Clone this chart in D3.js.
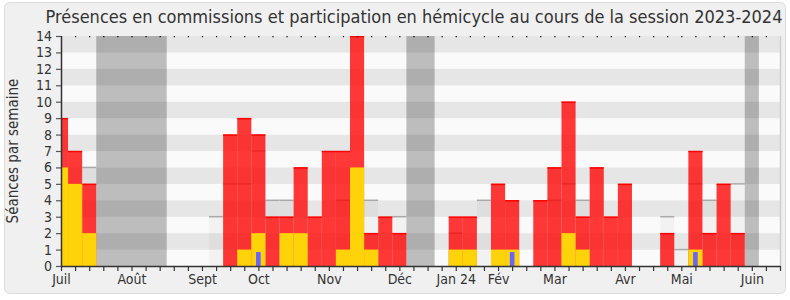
<!DOCTYPE html>
<html>
<head>
<meta charset="utf-8">
<script src="https://cdn.jsdelivr.net/npm/d3@7"></script>
<style>
  body { margin: 0; background: #fff; }
  svg { display: block; font-family: "DejaVu Sans", sans-serif; font-stretch: condensed; }
</style>
</head>
<body>
<svg id="chart"></svg>
<script>
const w = 790;
const h = 300;
const margin = { top: 36, right: 10, bottom: 34, left: 61 };

// one entry per week of the session, week 0 = first week of July 2023
const hemicycle = [9, 7, 5, null, null, null, null, null, null, null,
  null, null, 8, 9, 8, 3, 3, 6, 3, 7,
  7, 14, 2, 3, 2, null, null, null, 3, 3,
  null, 5, 4, null, 4, 6, 10, 3, 6, 3,
  5, null, null, 2, null, 7, 2, 5, 2, null, null];
const commissions = [6, 5, 2, null, null, null, null, null, null, null,
  null, null, null, 1, 2, null, 2, 2, null, null,
  1, 6, 1, null, null, null, null, null, 1, 1,
  null, 1, 1, null, null, null, 2, 1, null, null,
  null, null, null, null, null, 1, null, null, null, null, null];
const questions = [null, null, null, null, null, null, null, null, null, null,
  null, null, null, null, 0.85, null, null, null, null, null,
  null, null, null, null, null, null, null, null, null, null,
  null, null, 0.85, null, null, null, null, null, null, null,
  null, null, null, null, null, 0.85, null, null, null, null, null];
const mediane = [null, null, 6, null, null, null, null, null, null, null,
  null, 3, 5, 5, 7, 4, 4, null, null, null,
  4, null, 4, null, 3, null, null, null, 2, null,
  4, null, null, null, null, 4, 5, 4, null, null,
  null, null, null, 3, 1, 5, 4, null, 5, null, null];
const vacances = [[2.5, 7.5], [24.5, 26.5], [48.5, 49.5]];
const monthWeeks = [0, 5, 10, 14, 19, 24, 28, 31, 35, 40, 44, 49];
const monthLabels = ["Juil", "Août", "Sept", "Oct", "Nov", "Déc", "Jan 24", "Fév", "Mar", "Avr", "Mai", "Juin"];
const nbWeeks = 51;

const svg = d3.select("#chart")
  .attr("width", w)
  .attr("height", h);

svg.append("rect")
  .attr("x", 4.5).attr("y", 2.5)
  .attr("width", 781).attr("height", 291)
  .attr("rx", 5)
  .attr("fill", "#f0f0f0")
  .attr("stroke", "#dcdcdc");

const x = d3.scaleLinear()
  .domain([0, nbWeeks])
  .range([margin.left, w - margin.right]);

const y = d3.scaleLinear()
  .domain([0, 14])
  .range([h - margin.bottom, margin.top]);

svg.append("clipPath")
  .attr("id", "plot-clip")
  .append("rect")
  .attr("x", x(0)).attr("y", y(14))
  .attr("width", x(nbWeeks) - x(0))
  .attr("height", y(0) - y(14));

const plot = svg.append("g").attr("clip-path", "url(#plot-clip)");

// horizontal bands
plot.selectAll(".band")
  .data(d3.range(0, 14))
  .enter()
  .append("rect")
  .attr("x", x(0))
  .attr("y", d => y(d + 1))
  .attr("width", x(nbWeeks) - x(0))
  .attr("height", d => y(d) - y(d + 1))
  .attr("fill", d => d % 2 === 1 ? "#e6e6e6" : "#fafafa");

// holidays
plot.selectAll(".vac")
  .data(vacances)
  .enter()
  .append("rect")
  .attr("x", d => x(d[0]))
  .attr("y", y(14))
  .attr("width", d => x(d[1]) - x(d[0]))
  .attr("height", y(0) - y(14))
  .attr("fill", "#000")
  .attr("fill-opacity", 0.245);

const weeks = d3.range(nbWeeks);

// median of all deputies
const med = weeks.filter(i => mediane[i] != null);
plot.selectAll(".med")
  .data(med)
  .enter()
  .append("rect")
  .attr("x", i => x(i - 0.5))
  .attr("y", i => y(mediane[i]))
  .attr("width", x(1) - x(0))
  .attr("height", i => y(0) - y(mediane[i]))
  .attr("fill", "#000")
  .attr("fill-opacity", 0.03);
plot.selectAll(".medline")
  .data(med)
  .enter()
  .append("line")
  .attr("x1", i => x(i - 0.5))
  .attr("x2", i => x(i + 0.5))
  .attr("y1", i => y(mediane[i]))
  .attr("y2", i => y(mediane[i]))
  .attr("stroke", "#aaa")
  .attr("stroke-width", 1.5);

// hemicycle
const hem = weeks.filter(i => hemicycle[i] != null);
plot.selectAll(".hem")
  .data(hem)
  .enter()
  .append("rect")
  .attr("x", i => x(i - 0.5))
  .attr("y", i => y(hemicycle[i]))
  .attr("width", x(1) - x(0))
  .attr("height", i => y(0) - y(hemicycle[i]))
  .attr("fill", "#ff0000")
  .attr("fill-opacity", 0.78);
plot.selectAll(".hemtop")
  .data(hem)
  .enter()
  .append("line")
  .attr("x1", i => x(i - 0.5))
  .attr("x2", i => x(i + 0.5))
  .attr("y1", i => y(hemicycle[i]) + 0.5)
  .attr("y2", i => y(hemicycle[i]) + 0.5)
  .attr("stroke", "#f00")
  .attr("stroke-width", 1.5);

// commissions
const com = weeks.filter(i => commissions[i] != null);
plot.selectAll(".com")
  .data(com)
  .enter()
  .append("rect")
  .attr("x", i => x(i - 0.5))
  .attr("y", i => y(commissions[i]))
  .attr("width", x(1) - x(0))
  .attr("height", i => y(0) - y(commissions[i]))
  .attr("fill", "#ffd30a");

// questions
const que = weeks.filter(i => questions[i] != null);
plot.selectAll(".que")
  .data(que)
  .enter()
  .append("rect")
  .attr("x", i => x(i) - 2.3)
  .attr("y", i => y(questions[i]))
  .attr("width", 4.6)
  .attr("height", i => y(0) - y(questions[i]))
  .attr("fill", "#6666ff");

// right border of the plot
svg.append("line")
  .attr("x1", x(nbWeeks) + 0.5).attr("x2", x(nbWeeks) + 0.5)
  .attr("y1", y(14)).attr("y2", y(0))
  .attr("stroke", "#cfcfcf")
  .attr("stroke-width", 1.5);

// top dots
svg.append("g")
  .attr("transform", `translate(0, ${y(14)})`)
  .call(d3.axisTop(x).tickValues(weeks).tickSize(-1.2).tickFormat(""))
  .call(g => g.select(".domain").remove())
  .call(g => g.selectAll("line").attr("stroke", "#000").attr("stroke-width", 1.2));

// week ticks
svg.append("g")
  .attr("transform", `translate(0, ${y(0)})`)
  .call(d3.axisBottom(x).tickValues(d3.range(0, nbWeeks + 1)).tickSize(5).tickFormat("").tickSizeOuter(0))
  .call(g => g.select(".domain").attr("stroke", "#333").attr("stroke-width", 1.5))
  .call(g => g.selectAll("line").attr("stroke", "#333").attr("stroke-width", 1.2));

// month labels
svg.append("g")
  .attr("transform", `translate(0, ${y(0)})`)
  .call(d3.axisBottom(x).tickValues(monthWeeks).tickSize(5).tickPadding(3)
    .tickFormat((d, i) => monthLabels[i]))
  .call(g => g.select(".domain").remove())
  .call(g => g.selectAll("line").remove())
  .call(g => g.selectAll("text").attr("fill", "#333").attr("font-size", 14)
    .attr("font-family", "DejaVu Sans").style("font-stretch", "condensed"));

// y axis
svg.append("g")
  .attr("transform", `translate(${x(0)}, 0)`)
  .call(d3.axisLeft(y).ticks(14).tickSize(5).tickPadding(4).tickSizeOuter(0))
  .call(g => g.select(".domain").attr("stroke", "#333").attr("stroke-width", 1.5))
  .call(g => g.selectAll("line").attr("stroke", "#555").attr("stroke-width", 1.2))
  .call(g => g.selectAll("text").attr("fill", "#333").attr("font-size", 14)
    .attr("font-family", "DejaVu Sans").style("font-stretch", "condensed"));

svg.append("text")
  .attr("transform", `translate(18, ${(y(0) + y(14)) / 2}) rotate(-90)`)
  .attr("text-anchor", "middle")
  .attr("fill", "#333")
  .attr("font-size", 15)
  .text("Séances par semaine");

svg.append("text")
  .attr("x", 414)
  .attr("y", 23)
  .attr("text-anchor", "middle")
  .attr("fill", "#333")
  .attr("font-size", 18)
  .text("Présences en commissions et participation en hémicycle au cours de la session 2023-2024");
</script>
</body>
</html>
